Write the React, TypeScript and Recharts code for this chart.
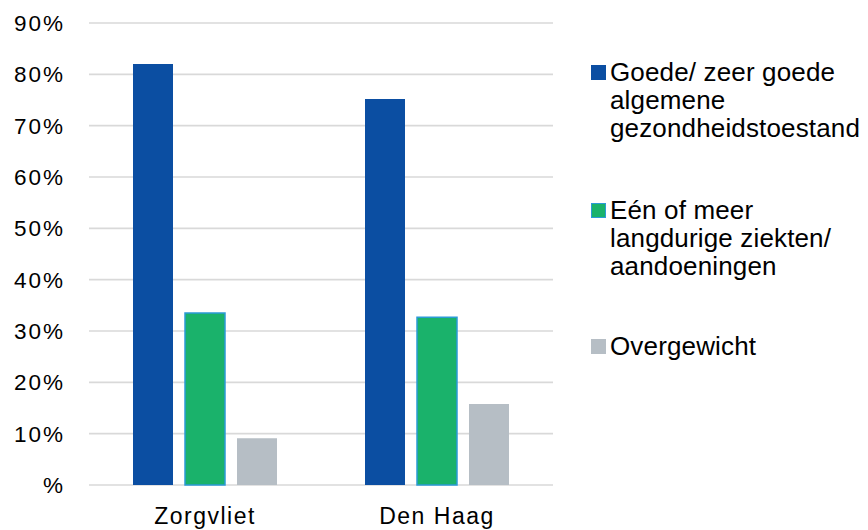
import React from "react";
import { BarChart, Bar, XAxis, YAxis, CartesianGrid } from "recharts";

const categories = ["Zorgvliet", "Den Haag"];
const goedeGezondheid = [82, 75.2];
const langdurigeZiekten = [33.5, 32.7];
const overgewicht = [9.1, 15.8];
const yTicks = [0, 10, 20, 30, 40, 50, 60, 70, 80, 90];

const seriesKeys = ["goede", "ziekten", "overgewicht"];
const seriesLabelLines = [
  ["Goede/ zeer goede", "algemene", "gezondheidstoestand"],
  ["Eén of meer", "langdurige ziekten/", "aandoeningen"],
  ["Overgewicht"],
];
const seriesColors = ["#0B4EA2", "#1AB26B", "#B6BEC5"];
const seriesStrokes = ["#0B4EA2", "#2B9BD6", "#B6BEC5"];

const data = categories.map((c, i) => ({
  name: c,
  goede: goedeGezondheid[i],
  ziekten: langdurigeZiekten[i],
  overgewicht: overgewicht[i],
}));

const FONT = "'Liberation Sans', Arial, sans-serif";

const legendTops = [50, 188, 324];

const LegendBlock = () => (
  <div style={{ position: "absolute", left: 583, top: 0, width: 285, height: 400, fontFamily: FONT }}>
    {seriesKeys.map((k, i) => (
      <div key={k} style={{ position: "absolute", left: 0, top: legendTops[i] }}>
        <div
          style={{
            position: "absolute",
            left: 0,
            top: 7,
            width: 15,
            height: 15,
            background: seriesColors[i],
            boxSizing: "border-box",
            border: i === 1 ? `1.5px solid ${seriesStrokes[i]}` : "none",
          }}
        />
        <div
          style={{
            position: "absolute",
            left: 19,
            top: 0,
            fontSize: 26,
            lineHeight: "28px",
            letterSpacing: 0.15,
            color: "#000",
            whiteSpace: "nowrap",
          }}
        >
          {seriesLabelLines[i].map((l, j) => (
            <div key={j}>{l}</div>
          ))}
        </div>
      </div>
    ))}
  </div>
);

export default function App() {
  return (
    <div style={{ position: "relative", width: 860, height: 522, fontFamily: FONT }}>
      <BarChart
        width={860}
        height={522}
        data={data}
        margin={{ top: 15, right: 315, bottom: 0, left: 0 }}
        barSize={40}
        barGap={12}
      >
        <CartesianGrid vertical={false} stroke="#D9D9D9" strokeWidth={1.6} />
        <XAxis
          dataKey="name"
          axisLine={false}
          tickLine={false}
          tickSize={0}
          tickMargin={23}
          height={45}
          tick={{ fill: "#000", fontSize: 23, fontFamily: FONT, letterSpacing: 1.5 }}
        />
        <YAxis
          domain={[0, 90]}
          ticks={yTicks}
          interval={0}
          axisLine={false}
          tickLine={false}
          tickSize={0}
          tickMargin={24}
          width={81}
          tickFormatter={(v: number) => (v === 0 ? "%" : `${v}%`)}
          tick={{ fill: "#000", fontSize: 22.5, fontFamily: FONT, letterSpacing: 2 }}
        />
        {seriesKeys.map((k, i) => (
          <Bar
            key={k}
            dataKey={k}
            fill={seriesColors[i]}
            stroke={seriesStrokes[i]}
            strokeWidth={i === 1 ? 1.5 : 0}
            isAnimationActive={false}
          />
        ))}
      </BarChart>
      <LegendBlock />
    </div>
  );
}
